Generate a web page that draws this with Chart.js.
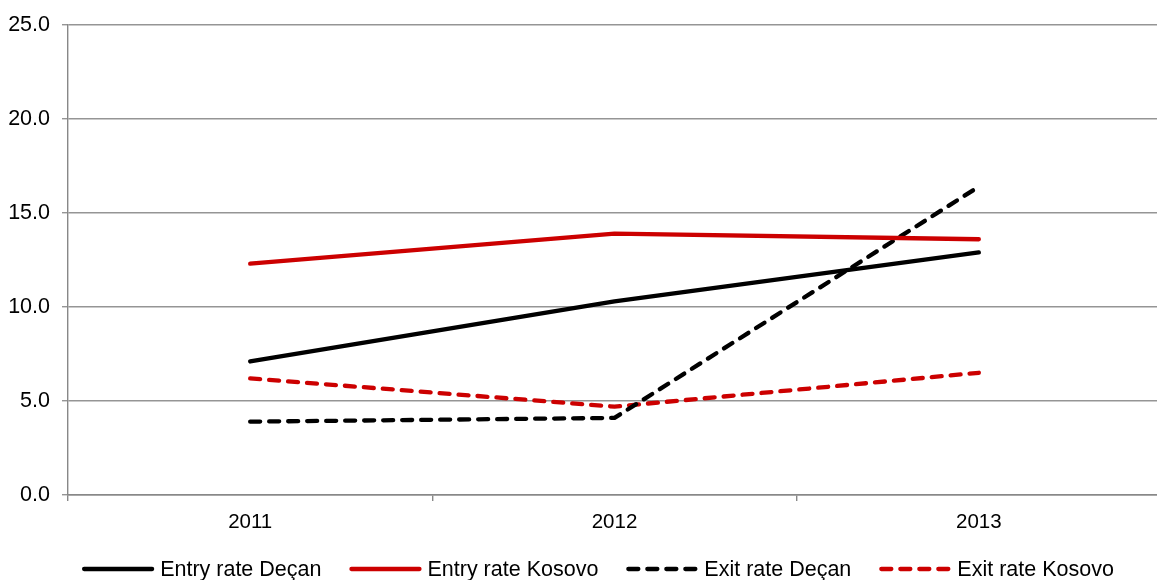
<!DOCTYPE html>
<html lang="en">
<head>
    <meta charset="UTF-8">
    <title>Entry and exit rates, Deçan and Kosovo</title>
    <script src="https://cdn.jsdelivr.net/npm/chart.js@4.4.0/dist/chart.umd.min.js"></script>
    <style>
        html, body {
            margin: 0;
            padding: 0;
            background: #ffffff;
            overflow: hidden;
        }
        .chart-container {
            width: 1161px;
            height: 580px;
        }
    </style>
</head>
<body>
    <div class="chart-container">
        <canvas id="rateChart"></canvas>
    </div>

    <script>
        // Values
        const years = ['2011', '2012', '2013'];
        const entryDecan = [7.1, 10.3, 12.9];
        const entryKosovo = [12.3, 13.9, 13.6];
        const exitDecan = [3.9, 4.1, 16.4];
        const exitKosovo = [6.2, 4.7, 6.5];
        const seriesNames = ['Entry rate Deçan', 'Entry rate Kosovo', 'Exit rate Deçan', 'Exit rate Kosovo'];
        const yTicks = [0, 5, 10, 15, 20, 25];

        const FONT = "'Liberation Sans', Arial, sans-serif";
        const RED = '#cc0000';
        const DASH = [10, 9];

        function lineSet(label, data, color, dash) {
            return {
                label: label,
                data: data,
                borderColor: color,
                backgroundColor: color,
                borderWidth: 4.3,
                borderDash: dash,
                borderCapStyle: 'round',
                borderJoinStyle: 'round',
                pointRadius: 0,
                pointHoverRadius: 0,
                tension: 0,
                fill: false
            };
        }

        // legend drawn under the plot, line samples like the original
        const bottomLegend = {
            id: 'bottomLegend',
            afterDraw(chart) {
                const ctx = chart.ctx;
                const y = 569;
                const sampleW = 72;
                const textGap = 6;
                const itemGap = 28;
                ctx.save();
                ctx.font = '21.5px ' + FONT;
                const widths = chart.data.datasets.map(ds => ctx.measureText(ds.label).width);
                let total = widths.reduce((a, b) => a + b, 0) + chart.data.datasets.length * (sampleW + textGap) + (chart.data.datasets.length - 1) * itemGap;
                let x = 598 - total / 2;
                chart.data.datasets.forEach((ds, i) => {
                    ctx.strokeStyle = ds.borderColor;
                    ctx.lineWidth = ds.borderWidth;
                    ctx.lineCap = 'round';
                    ctx.setLineDash(ds.borderDash || []);
                    ctx.beginPath();
                    ctx.moveTo(x + 2, y);
                    ctx.lineTo(x + sampleW - 2, y);
                    ctx.stroke();
                    ctx.setLineDash([]);
                    ctx.fillStyle = '#000000';
                    ctx.textAlign = 'left';
                    ctx.textBaseline = 'middle';
                    ctx.fillText(ds.label, x + sampleW + textGap, y + 1);
                    x += sampleW + textGap + widths[i] + itemGap;
                });
                ctx.restore();
            }
        };

        const ctx = document.getElementById('rateChart').getContext('2d');

        new Chart(ctx, {
            type: 'line',
            data: {
                labels: years,
                datasets: [
                    lineSet(seriesNames[0], entryDecan, '#000000', []),
                    lineSet(seriesNames[1], entryKosovo, RED, []),
                    lineSet(seriesNames[2], exitDecan, '#000000', DASH),
                    lineSet(seriesNames[3], exitKosovo, RED, DASH)
                ]
            },
            options: {
                responsive: true,
                maintainAspectRatio: false,
                animation: false,
                events: [],
                layout: {
                    padding: { top: 22, left: 0, right: 0, bottom: 0 }
                },
                plugins: {
                    legend: { display: false },
                    tooltip: { enabled: false }
                },
                scales: {
                    x: {
                        offset: true,
                        grid: {
                            display: true,
                            offset: true,
                            drawOnChartArea: false,
                            drawTicks: true,
                            tickLength: 6,
                            color: '#888888',
                            lineWidth: 1.4
                        },
                        border: { display: true, color: '#888888', width: 1.4 },
                        ticks: {
                            color: '#000000',
                            padding: 9,
                            font: { family: FONT, size: 20.5 }
                        },
                        afterFit: scale => { scale.height = 85; }
                    },
                    y: {
                        min: yTicks[0],
                        max: yTicks[yTicks.length - 1],
                        afterBuildTicks: scale => {
                            scale.ticks = yTicks.map(v => ({ value: v }));
                        },
                        grid: {
                            color: '#959595',
                            lineWidth: 1.4,
                            drawTicks: true,
                            tickLength: 6
                        },
                        border: { display: true, color: '#888888', width: 1.4 },
                        ticks: {
                            color: '#000000',
                            padding: 12,
                            font: { family: FONT, size: 21.5 },
                            callback: v => Number(v).toFixed(1)
                        },
                        afterFit: scale => { scale.width = 68; }
                    }
                }
            },
            plugins: [bottomLegend]
        });
    </script>
</body>
</html>
